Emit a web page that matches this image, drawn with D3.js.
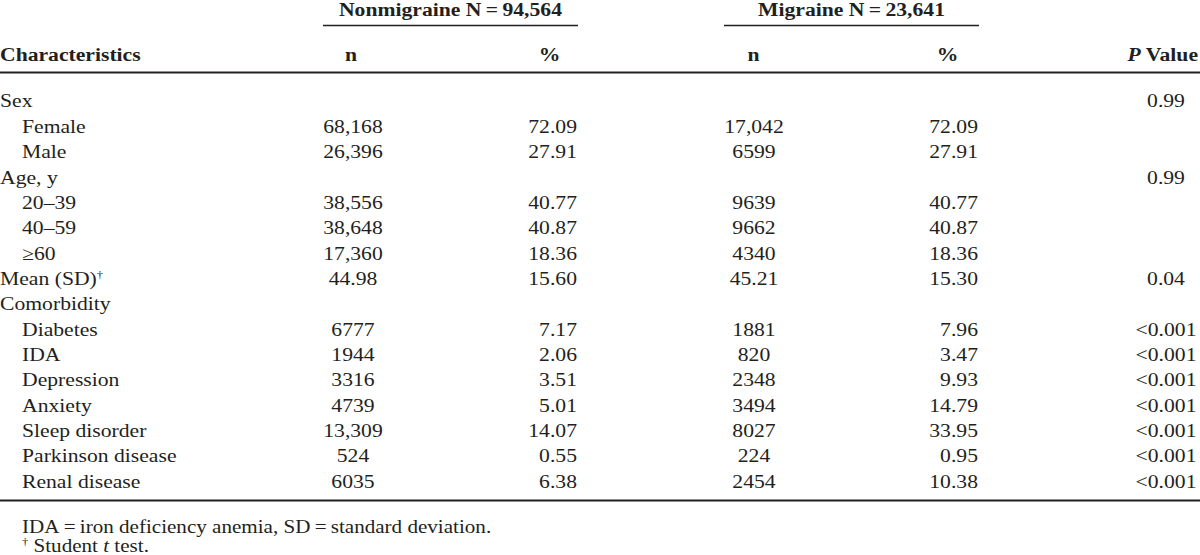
<!DOCTYPE html>
<html>
<head>
<meta charset="utf-8">
<script src="https://cdn.jsdelivr.net/npm/d3@7"></script>
<style>
  body { margin: 0; background: #fff; }
  text { font-family: 'Liberation Serif', 'Times New Roman', serif; fill: #231f20; }
</style>
</head>
<body>
<div id="table"></div>
<script>
// table data
var labels   = ['Sex', 'Female', 'Male', 'Age, y', '20\u201339', '40\u201359', '\u226560', 'Mean (SD)',
                'Comorbidity', 'Diabetes', 'IDA', 'Depression', 'Anxiety', 'Sleep disorder', 'Parkinson disease', 'Renal disease'];
var indented = [0, 1, 1, 0, 1, 1, 1, 0, 0, 1, 1, 1, 1, 1, 1, 1];
var nonN     = ['', '68,168', '26,396', '', '38,556', '38,648', '17,360', '44.98', '', '6777', '1944', '3316', '4739', '13,309', '524', '6035'];
var nonPct   = ['', '72.09', '27.91', '', '40.77', '40.87', '18.36', '15.60', '', '7.17', '2.06', '3.51', '5.01', '14.07', '0.55', '6.38'];
var migN     = ['', '17,042', '6599', '', '9639', '9662', '4340', '45.21', '', '1881', '820', '2348', '3494', '8027', '224', '2454'];
var migPct   = ['', '72.09', '27.91', '', '40.77', '40.87', '18.36', '15.30', '', '7.96', '3.47', '9.93', '14.79', '33.95', '0.95', '10.38'];
var pValues  = ['0.99', '', '', '0.99', '', '', '', '0.04', '', '<0.001', '<0.001', '<0.001', '<0.001', '<0.001', '<0.001', '<0.001'];
var groups   = ['Nonmigraine N\u2009=\u200994,564', 'Migraine N\u2009=\u200923,641'];
var footnote = 'IDA\u2009=\u2009iron deficiency anemia, SD\u2009=\u2009standard deviation.';

var width    = 1200;
var height   = 555;
var fontSize = 19;
var sx       = 1.14;   // the source type is set slightly wide
var ink      = '#231f20';

var svg = d3.select('#table')
    .append('svg')
    .attr('width', width)
    .attr('height', height);

function place(x, y) {
    return 'translate(' + x + ',' + y + ') scale(' + sx + ',1)';
}

// rows
var y = d3.scaleBand()
    .domain(d3.range(labels.length))
    .range([88.5, 88.5 + labels.length * 25.35]);

// columns: anchor position of each column
var cols = ['label', 'nonN', 'nonPct', 'migN', 'migPct', 'p'];
var x = d3.scaleOrdinal()
    .domain(cols)
    .range([0, 353, 577, 754, 978, 1166]);
var anchor = d3.scaleOrdinal()
    .domain(cols)
    .range(['start', 'middle', 'end', 'middle', 'end', 'middle']);

// group headings
var groupX = d3.scaleOrdinal().domain(groups).range([450.5, 851.5]);
svg.selectAll('.group')
    .data(groups)
    .enter()
    .append('text')
    .attr('class', 'group')
    .attr('transform', function(d){ return place(groupX(d), 15.5); })
    .attr('text-anchor', 'middle')
    .style('font-weight', 'bold')
    .style('font-size', fontSize + 'px')
    .text(function(d){ return d; });

svg.selectAll('.group-rule')
    .data(groups)
    .enter()
    .append('line')
    .attr('x1', function(d){ return groupX(d) - 127.5; })
    .attr('x2', function(d){ return groupX(d) + 127.5; })
    .attr('y1', 25.5)
    .attr('y2', 25.5)
    .attr('stroke', ink)
    .attr('stroke-width', 1.4);

// column headings
var headY = 61;
var heads = [
    {x: 0,     a: 'start',  t: 'Characteristics'},
    {x: 351,   a: 'middle', t: 'n'},
    {x: 549.5, a: 'middle', t: '%'},
    {x: 753.5, a: 'middle', t: 'n'},
    {x: 947.5, a: 'middle', t: '%'}
];
svg.selectAll('.head')
    .data(heads)
    .enter()
    .append('text')
    .attr('class', 'head')
    .attr('transform', function(d){ return place(d.x, headY); })
    .attr('text-anchor', function(d){ return d.a; })
    .style('font-weight', 'bold')
    .style('font-size', fontSize + 'px')
    .text(function(d){ return d.t; });

var pHead = svg.append('text')
    .attr('transform', place(1198, headY))
    .attr('text-anchor', 'end')
    .style('font-weight', 'bold')
    .style('font-size', fontSize + 'px');
pHead.append('tspan').style('font-style', 'italic').text('P');
pHead.append('tspan').text(' Value');

// thick rule under header
svg.append('line')
    .attr('x1', 0).attr('x2', width)
    .attr('y1', 72.5).attr('y2', 72.5)
    .attr('stroke', ink)
    .attr('stroke-width', 2);

// body cells
var rows = svg.append('g')
    .selectAll('g')
    .data(d3.range(labels.length))
    .enter()
    .append('g')
    .attr('transform', function(i){ return 'translate(0,' + (y(i) + y.bandwidth() / 2 + 6.3) + ')'; });

rows.append('text')
    .attr('transform', function(i){ return place(x('label') + (indented[i] ? 22 : 0), 0); })
    .style('font-size', fontSize + 'px')
    .text(function(i){ return labels[i]; })
    .filter(function(i){ return labels[i] === 'Mean (SD)'; })
    .append('tspan')
    .attr('dy', -7)
    .style('font-size', '11px')
    .text('\u2020');

var cellData = { nonN: nonN, nonPct: nonPct, migN: migN, migPct: migPct, p: pValues };
Object.keys(cellData).forEach(function(col){
    rows.append('text')
        .attr('transform', place(x(col), 0))
        .attr('text-anchor', anchor(col))
        .style('font-size', fontSize + 'px')
        .text(function(i){ return cellData[col][i]; });
});

// bottom rule
svg.append('line')
    .attr('x1', 0).attr('x2', width)
    .attr('y1', 500.5).attr('y2', 500.5)
    .attr('stroke', ink)
    .attr('stroke-width', 2);

// footnotes
svg.append('text')
    .attr('transform', place(22, 533))
    .style('font-size', '18.5px')
    .text(footnote);

var note2 = svg.append('text')
    .attr('transform', place(22, 552))
    .style('font-size', '18.5px');
note2.append('tspan').attr('dy', -7).style('font-size', '11px').text('\u2020');
note2.append('tspan').attr('dy', 7).text(' Student ');
note2.append('tspan').style('font-style', 'italic').text('t');
note2.append('tspan').text(' test.');
</script>
</body>
</html>
